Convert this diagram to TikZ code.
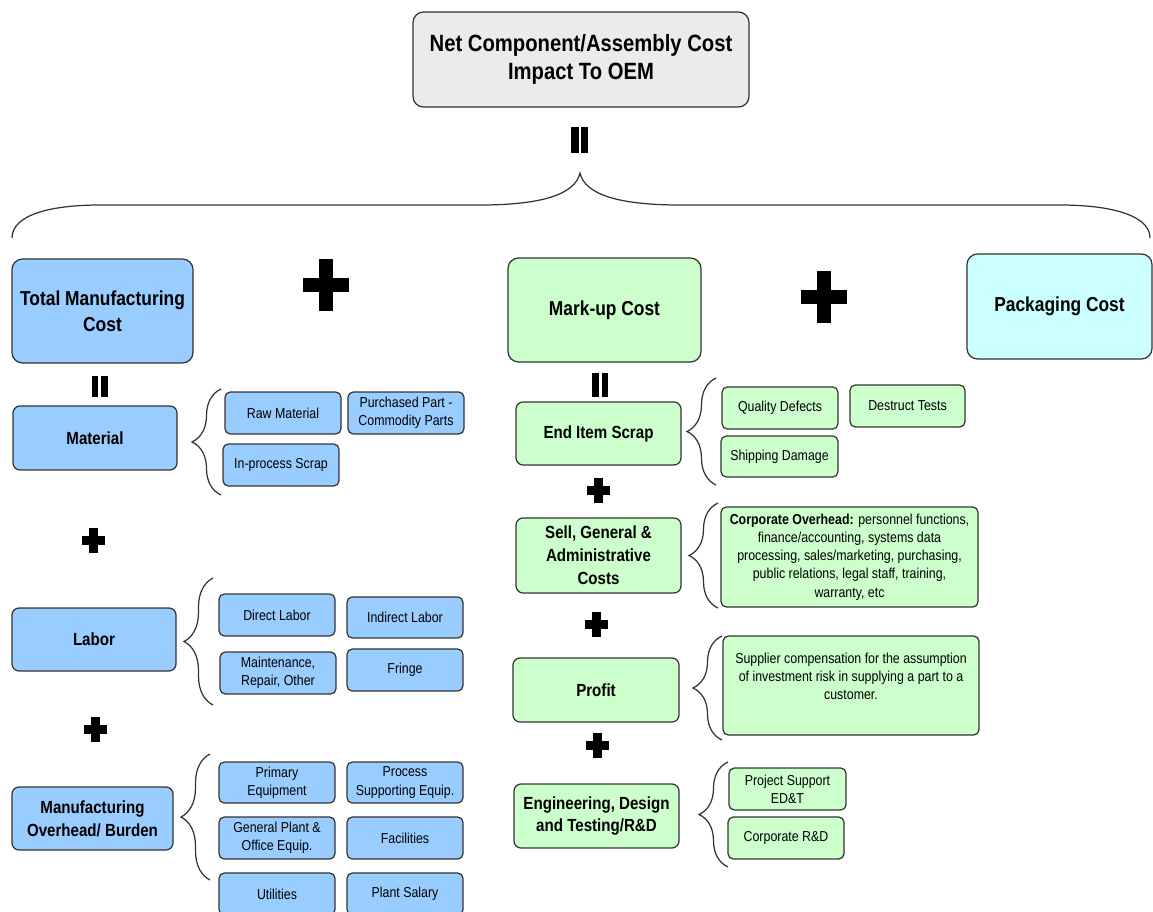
\documentclass[tikz,border=0pt]{standalone}
\usepackage{fontspec}
\setmainfont{Liberation Sans}[FakeStretch=0.86]
\usepackage{tikz}
\usetikzlibrary{
  decorations.pathreplacing,
}
\definecolor{matBlue}{HTML}{99CCFF}
\definecolor{markGreen}{HTML}{CCFFCC}
\definecolor{packCyan}{HTML}{CCFFFF}
\definecolor{topGray}{HTML}{EBEBEB}
\definecolor{edgeGray}{HTML}{333333}
\tikzset{
  costbox/.style={
    rectangle, rounded corners=#1, draw=edgeGray, line width=0.7pt,
    inner sep=2pt, align=center,
  },
  topbox/.style={
    costbox=6pt, fill=topGray, font=\fontsize{13.4}{16.4}\selectfont\bfseries,
  },
  bigbox/.style={
    costbox=6pt, font=\fontsize{11.5}{14.7}\selectfont\bfseries,
  },
  midbox/.style={
    costbox=4pt, font=\fontsize{10}{13}\selectfont\bfseries,
  },
  smallbox/.style={
    costbox=3pt, font=\fontsize{8.2}{10.4}\selectfont,
  },
  boxsize/.style 2 args={
    minimum width=#1*0.02cm, minimum height=#2*0.02cm,
  },
  groupbrace/.style={
    decorate, decoration={brace, amplitude=0.58cm},
    draw=edgeGray, line width=0.7pt,
  },
  pics/plusmark/.style args={#1/#2/#3}{code={% half width / half height / half stroke
    \fill (-#1,-#3) rectangle (#1,#3);
    \fill (-#3,-#2) rectangle (#3,#2);
  }},
  pics/eqmark/.style args={#1/#2/#3}{code={% bar width / gap / half height
    \fill (-#2/2-#1,-#3) rectangle (-#2/2,#3);
    \fill (#2/2,-#3) rectangle (#2/2+#1,#3);
  }},
}

\begin{document}
\begin{tikzpicture}[x=0.02cm, y=-0.02cm]
\useasboundingbox (0,0) rectangle (1153,912);

% top level
\node[topbox, boxsize={336}{95}] (oem) at (581,59.5)
  {Net Component/Assembly Cost\\Impact To OEM};
\pic at (579.5,140) {eqmark=7.5/2/13};
\draw[edgeGray, line width=0.7pt]
  (12,238) .. controls (12,215) and (50,205) .. (100,205) -- (480,205)
  .. controls (540,205) and (575,195) .. (580,173)
  .. controls (585,195) and (620,205) .. (680,205) -- (1060,205)
  .. controls (1110,205) and (1150,215) .. (1150,238);

\node[bigbox, fill=matBlue, boxsize={181}{104}] (tmc) at (102.5,311)
  {Total Manufacturing\\Cost};
\pic at (326,285) {plusmark=23/26/7};
\node[bigbox, fill=markGreen, boxsize={193}{104}] (mup) at (604.5,310)
  {Mark-up Cost};
\pic at (824,297) {plusmark=23/26/7};
\node[bigbox, fill=packCyan, boxsize={185}{105}] (pkg) at (1059.5,306.5)
  {Packaging Cost};

% manufacturing side
\pic at (99.5,386.5) {eqmark=6.5/3/10.5};
\node[midbox, fill=matBlue, boxsize={164}{64}] (mat) at (95,438) {Material};
\node[smallbox, fill=matBlue, boxsize={116}{42}] (raw) at (283,413) {Raw Material};
\node[smallbox, fill=matBlue, boxsize={116}{42}] (pur) at (406,413)
  {Purchased Part -\\Commodity Parts};
\node[smallbox, fill=matBlue, boxsize={116}{42}] (ips) at (281,465) {In-process Scrap};

\pic at (93,540) {plusmark=11.5/12.5/4.5};

\node[midbox, fill=matBlue, boxsize={164}{63}] (lab) at (94,639.5) {Labor};
\node[smallbox, fill=matBlue, boxsize={116}{42}] (dlab) at (277,615) {Direct Labor};
\node[smallbox, fill=matBlue, boxsize={116}{41}] (ilab) at (405,617.5) {Indirect Labor};
\node[smallbox, fill=matBlue, boxsize={116}{42}] (mro) at (278,673)
  {Maintenance,\\Repair, Other};
\node[smallbox, fill=matBlue, boxsize={116}{42}] (fri) at (405,670) {Fringe};

\pic at (95.5,729.5) {plusmark=11.5/12.5/4.5};

\node[midbox, fill=matBlue, boxsize={161}{63}] (moh) at (92.5,818.5)
  {Manufacturing\\Overhead/ Burden};
\node[smallbox, fill=matBlue, boxsize={116}{41}] (peq) at (277,782.5)
  {Primary\\Equipment};
\node[smallbox, fill=matBlue, boxsize={116}{41}] (pse) at (405,782.5)
  {Process\\Supporting Equip.};
\node[smallbox, fill=matBlue, boxsize={116}{42}] (gpo) at (277,838)
  {General Plant \&\\Office Equip.};
\node[smallbox, fill=matBlue, boxsize={116}{42}] (fac) at (405,838) {Facilities};
\node[smallbox, fill=matBlue, boxsize={116}{42}] (uti) at (277,894) {Utilities};
\node[smallbox, fill=matBlue, boxsize={116}{42}] (psal) at (405,894) {Plant Salary};

% mark-up side
\pic at (600,385) {eqmark=6.5/3/12};
\node[midbox, fill=markGreen, boxsize={165}{63}] (eis) at (598.5,433.5) {End Item Scrap};
\node[smallbox, fill=markGreen, boxsize={116}{42}] (qdef) at (780,408) {Quality Defects};
\node[smallbox, fill=markGreen, boxsize={115}{42}] (dtst) at (907.5,406) {Destruct Tests};
\node[smallbox, fill=markGreen, boxsize={117}{41}] (shd) at (779.5,456.5) {Shipping Damage};

\pic at (598,490) {plusmark=11.5/12.5/4.5};

\node[midbox, fill=markGreen, boxsize={165}{75}] (sga) at (598.5,555.5)
  {Sell, General \&\\Administrative\\Costs};
\node[smallbox, fill=markGreen, boxsize={257}{100}] (corp) at (849.5,557)
  {\textbf{Corporate Overhead:} personnel functions,\\finance/accounting, systems data\\
   processing, sales/marketing, purchasing,\\public relations, legal staff, training,\\
   warranty, etc};

\pic at (596,624.5) {plusmark=11.5/12.5/4.5};

\node[midbox, fill=markGreen, boxsize={166}{64}] (pro) at (596,690) {Profit};
\node[smallbox, fill=markGreen, boxsize={256}{99}] (supc) at (851,685.5)
  {Supplier compensation for the assumption\\of investment risk in supplying a part to a\\
   customer.\\\mbox{}};

\pic at (597,745) {plusmark=11.5/12.5/4.5};

\node[midbox, fill=markGreen, boxsize={165}{64}] (edt) at (596.5,816)
  {Engineering, Design\\and Testing/R\&D};
\node[smallbox, fill=markGreen, boxsize={117}{42}] (pjs) at (787.5,789)
  {Project Support\\ED\&T};
\node[smallbox, fill=markGreen, boxsize={116}{42}] (crd) at (786,838) {Corporate R\&D};

% group braces
\foreach \xo/\yt/\yb in {221/389/495, 213/578/705, 210/754/880,
                         716/378/485, 718/503/608, 722/636/740, 728/762/867}
  \draw[groupbrace] (\xo,\yb) -- (\xo,\yt);

\end{tikzpicture}
\end{document}
